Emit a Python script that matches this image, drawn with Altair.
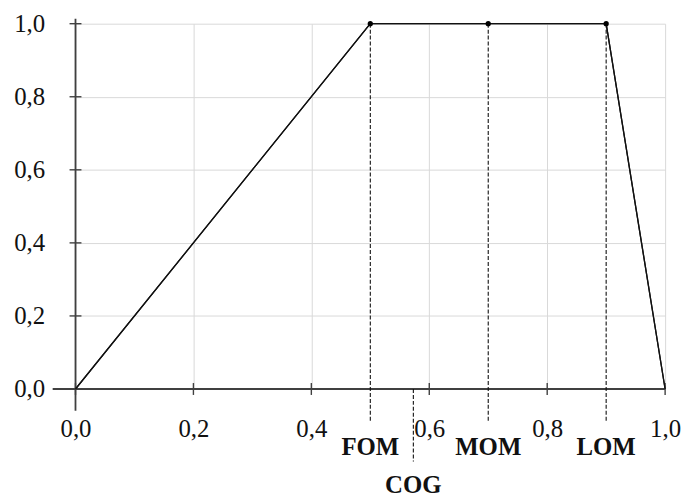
import altair as alt
import pandas as pd

# ---- data ----
curve_x = [0.0, 0.5, 0.7, 0.9, 1.0]
curve_y = [0.0, 1.0, 1.0, 1.0, 0.0]
point_x = [0.5, 0.7, 0.9]
point_y = [1.0, 1.0, 1.0]
marker_labels = ["FOM", "MOM", "LOM"]
cog_x = [0.573]
cog_label = ["COG"]
tick_values = [0.0, 0.2, 0.4, 0.6, 0.8, 1.0]
axis_origin = [0.0]

W, H = 594, 368
FONT = "Liberation Serif, Times New Roman, serif"
AXIS_COLOR = "#404040"
FS = 25

curve = pd.DataFrame({"x": curve_x, "y": curve_y})
pts = pd.DataFrame({"x": point_x, "y": point_y, "label": marker_labels})
cog = pd.DataFrame({"x": cog_x, "label": cog_label})
ticks = pd.DataFrame({"v": tick_values})
origin = pd.DataFrame({"o": axis_origin})

xs = alt.Scale(domain=[0, 1], nice=False, zero=True)
ys = alt.Scale(domain=[0, 1], nice=False, zero=True)
label_expr = "replace(format(datum.value, '.1f'), '.', ',')"

x_axis = alt.Axis(values=tick_values, labelExpr=label_expr, grid=True,
                  gridColor="#d9d9d9", gridWidth=1, domain=False, ticks=False,
                  labelPadding=28, labelFont=FONT, labelFontSize=FS,
                  labelColor="#111111", title=None, labelFlush=False)
y_axis = alt.Axis(values=tick_values, labelExpr=label_expr, grid=True,
                  gridColor="#d9d9d9", gridWidth=1, domain=False, ticks=False,
                  labelPadding=31, labelFont=FONT, labelFontSize=FS,
                  labelColor="#111111", title=None, labelFlush=False)

line = alt.Chart(curve).mark_line(color="#111111", strokeWidth=1.3).encode(
    x=alt.X("x:Q", scale=xs, axis=x_axis),
    y=alt.Y("y:Q", scale=ys, axis=y_axis),
)

x_axis_line = alt.Chart(origin).mark_rule(color=AXIS_COLOR, strokeWidth=1.8).encode(
    y=alt.Y("o:Q", scale=ys), x=alt.value(-23), x2=alt.value(W)
)
y_axis_line = alt.Chart(origin).mark_rule(color=AXIS_COLOR, strokeWidth=1.8).encode(
    x=alt.X("o:Q", scale=xs), y=alt.value(-5), y2=alt.value(H + 22)
)

x_ticks = alt.Chart(ticks).mark_tick(orient="vertical", size=12, thickness=1.4,
                                     color=AXIS_COLOR, opacity=1).encode(
    x=alt.X("v:Q", scale=xs), y=alt.datum(0)
)
y_ticks = alt.Chart(ticks).mark_tick(orient="horizontal", size=12, thickness=1.4,
                                     color=AXIS_COLOR, opacity=1).encode(
    y=alt.Y("v:Q", scale=ys), x=alt.datum(0)
)

drops = alt.Chart(pts).mark_rule(color="#111111", strokeWidth=1.1, strokeDash=[4, 2]).encode(
    x=alt.X("x:Q", scale=xs), y=alt.Y("y:Q", scale=ys), y2=alt.value(H + 34)
)
dots = alt.Chart(pts).mark_circle(color="#000000", size=28, opacity=1).encode(
    x=alt.X("x:Q", scale=xs), y=alt.Y("y:Q", scale=ys)
)
marker_text = alt.Chart(pts).mark_text(font=FONT, fontSize=FS, fontWeight="bold",
                                       baseline="alphabetic", align="center",
                                       color="#111111").encode(
    x=alt.X("x:Q", scale=xs), y=alt.value(H + 67), text="label:N"
)

cog_rule = alt.Chart(cog).mark_rule(color="#111111", strokeWidth=1.1, strokeDash=[4, 2]).encode(
    x=alt.X("x:Q", scale=xs), y=alt.datum(0), y2=alt.value(H + 73)
)
cog_text = alt.Chart(cog).mark_text(font=FONT, fontSize=FS, fontWeight="bold",
                                    baseline="alphabetic", align="center",
                                    color="#111111").encode(
    x=alt.X("x:Q", scale=xs), y=alt.value(H + 105), text="label:N"
)

chart = alt.layer(
    line, x_axis_line, y_axis_line, x_ticks, y_ticks, drops, cog_rule,
    line, dots, marker_text, cog_text
).properties(
    width=W, height=H,
    autosize=alt.AutoSizeParams(type="none"),
    padding={"left": 68, "top": 14, "right": 16, "bottom": 108},
).configure_view(stroke=None)

chart.save("out.html", embed_options={"renderer": "svg", "actions": False})
